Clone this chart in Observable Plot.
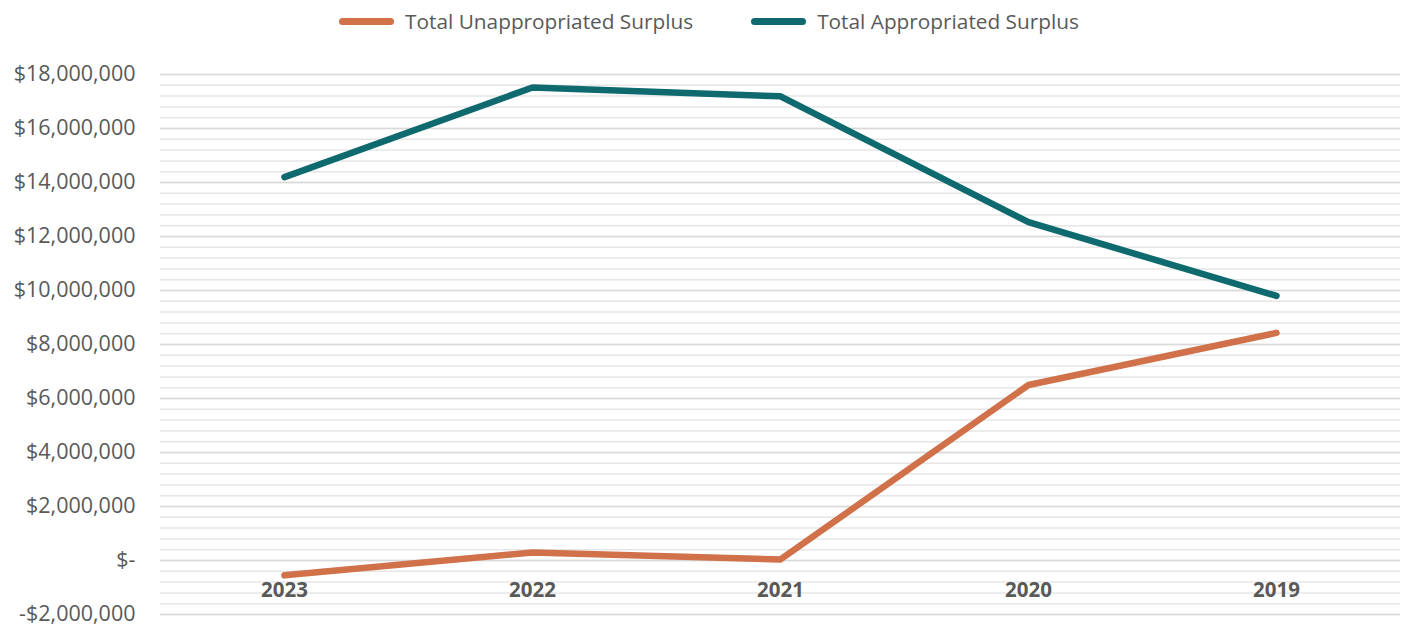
<!DOCTYPE html>
<html>
<head>
<meta charset="utf-8">
<script src="https://cdn.jsdelivr.net/npm/d3@7"></script>
<script src="https://cdn.jsdelivr.net/npm/@observablehq/plot@0.6"></script>
<style>
  html, body { margin: 0; padding: 0; background: #fff; }
  body { width: 1408px; height: 626px; overflow: hidden; font-family: "Open Sans", sans-serif; }
  #legend { height: 42px; display: flex; justify-content: center; align-items: center; gap: 58px; font-size: 20.8px; color: #595959; padding-left: 10px; box-sizing: border-box; }
  .item { display: flex; align-items: center; gap: 11px; }
  .sw { width: 55px; height: 7px; border-radius: 4px; }
</style>
</head>
<body>
<div id="legend"></div>
<div id="chart" style="margin-top:3px"></div>
<script>
const years = ["2023", "2022", "2021", "2020", "2019"];
const unappropriated = [-550000, 300000, 40000, 6500000, 8430000];
const appropriated = [14200000, 17520000, 17190000, 12530000, 9800000];
const seriesNames = ["Total Unappropriated Surplus", "Total Appropriated Surplus"];
const seriesColors = ["#D0714A", "#0E6A6E"];
const majorTicks = d3.range(-2000000, 18000001, 2000000);
const minorTicks = d3.range(-2000000, 18000001, 400000);

const rows = [];
years.forEach((y, i) => {
  rows.push({year: y, value: unappropriated[i], series: seriesNames[0]});
  rows.push({year: y, value: appropriated[i], series: seriesNames[1]});
});

const legend = document.getElementById("legend");
seriesNames.forEach((n, i) => {
  const it = document.createElement("div");
  it.className = "item";
  it.innerHTML = `<span class="sw" style="background:${seriesColors[i]}"></span><span>${n}</span>`;
  legend.appendChild(it);
});

const fmt = v => v === 0 ? "$-" : (v < 0 ? "-$" : "$") + d3.format(",")(Math.abs(v));

const chart = Plot.plot({
  width: 1408,
  height: 581,
  marginLeft: 160,
  marginRight: 8,
  marginTop: 29,
  marginBottom: 12,
  style: {fontFamily: "'Open Sans', sans-serif", fontSize: "20.5px", color: "#595959", background: "#fff"},
  x: {type: "band", domain: years, padding: 0, axis: null},
  y: {domain: [-2000000, 18000000], axis: null},
  color: {domain: seriesNames, range: seriesColors},
  marks: [
    Plot.ruleY(minorTicks, {stroke: "#e6e6e6", strokeWidth: 1.5}),
    Plot.ruleY(majorTicks, {stroke: "#d9d9d9", strokeWidth: 1.5}),
    Plot.axisY(majorTicks, {tickSize: 0, tickPadding: 25, tickFormat: fmt, fill: "#595959", fontSize: 21.5, label: null}),
    Plot.text(years, {x: d => d, y: () => 0, dy: 30, text: d => d, fontWeight: "bold", fill: "#595959", fontSize: 20.5}),
    Plot.line(rows, {x: "year", y: "value", z: "series", stroke: "series", strokeWidth: 6.5, strokeLinecap: "round", strokeLinejoin: "round"})
  ]
});
document.getElementById("chart").appendChild(chart);
</script>
</body>
</html>
